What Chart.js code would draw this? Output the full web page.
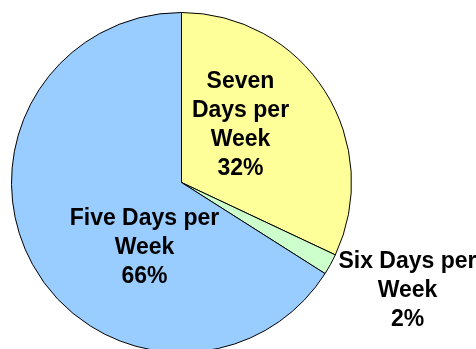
<!DOCTYPE html>
<html>
<head>
<meta charset="utf-8">
<script src="https://cdn.jsdelivr.net/npm/chart.js@4.4.0/dist/chart.umd.min.js"></script>
<style>
  html, body { margin: 0; padding: 0; background: #fff; overflow: hidden; }
  #wrap { position: absolute; left: 0; top: 0; width: 476px; height: 360px; }
</style>
</head>
<body>
<div id="wrap"><canvas id="myChart" width="476" height="360"></canvas></div>
<script>
// work week split
const categories = [['Seven', 'Days per', 'Week'], ['Six Days per', 'Week'], ['Five Days per', 'Week']];
const shares = [32, 2, 66];
const sliceColors = ['#FFFF99', '#CCFFCC', '#99CCFF'];

// label centre, offset from the pie centre
const labelOffsets = [[59, -57], [226, 108], [-37, 65]];

const sliceLabels = {
    id: 'sliceLabels',
    afterDatasetsDraw(chart) {
        const ctx = chart.ctx;
        const arcs = chart.getDatasetMeta(0).data;
        ctx.save();
        ctx.font = 'bold 23px "Liberation Sans", Arial, sans-serif';
        ctx.fillStyle = '#000';
        ctx.textAlign = 'center';
        ctx.textBaseline = 'middle';
        const lineH = 29;
        arcs.forEach((arc, i) => {
            const lines = categories[i].concat([shares[i] + '%']);
            const cx = arc.x + labelOffsets[i][0];
            const cy = arc.y + labelOffsets[i][1];
            const top = cy - (lines.length - 1) * lineH / 2;
            lines.forEach((t, j) => ctx.fillText(t, cx, top + j * lineH));
        });
        ctx.restore();
    }
};

const ctx = document.getElementById('myChart');

new Chart(ctx, {
    type: 'pie',
    data: {
        labels: categories.map(c => c.join(' ')),
        datasets: [{
            data: shares,
            backgroundColor: sliceColors,
            borderColor: '#000',
            borderWidth: 1
        }]
    },
    options: {
        responsive: false,
        animation: false,
        layout: { padding: { left: 11, top: 12, right: 124, bottom: 7 } },
        plugins: {
            legend: { display: false },
            tooltip: { enabled: false }
        }
    },
    plugins: [sliceLabels]
});
</script>
</body>
</html>
